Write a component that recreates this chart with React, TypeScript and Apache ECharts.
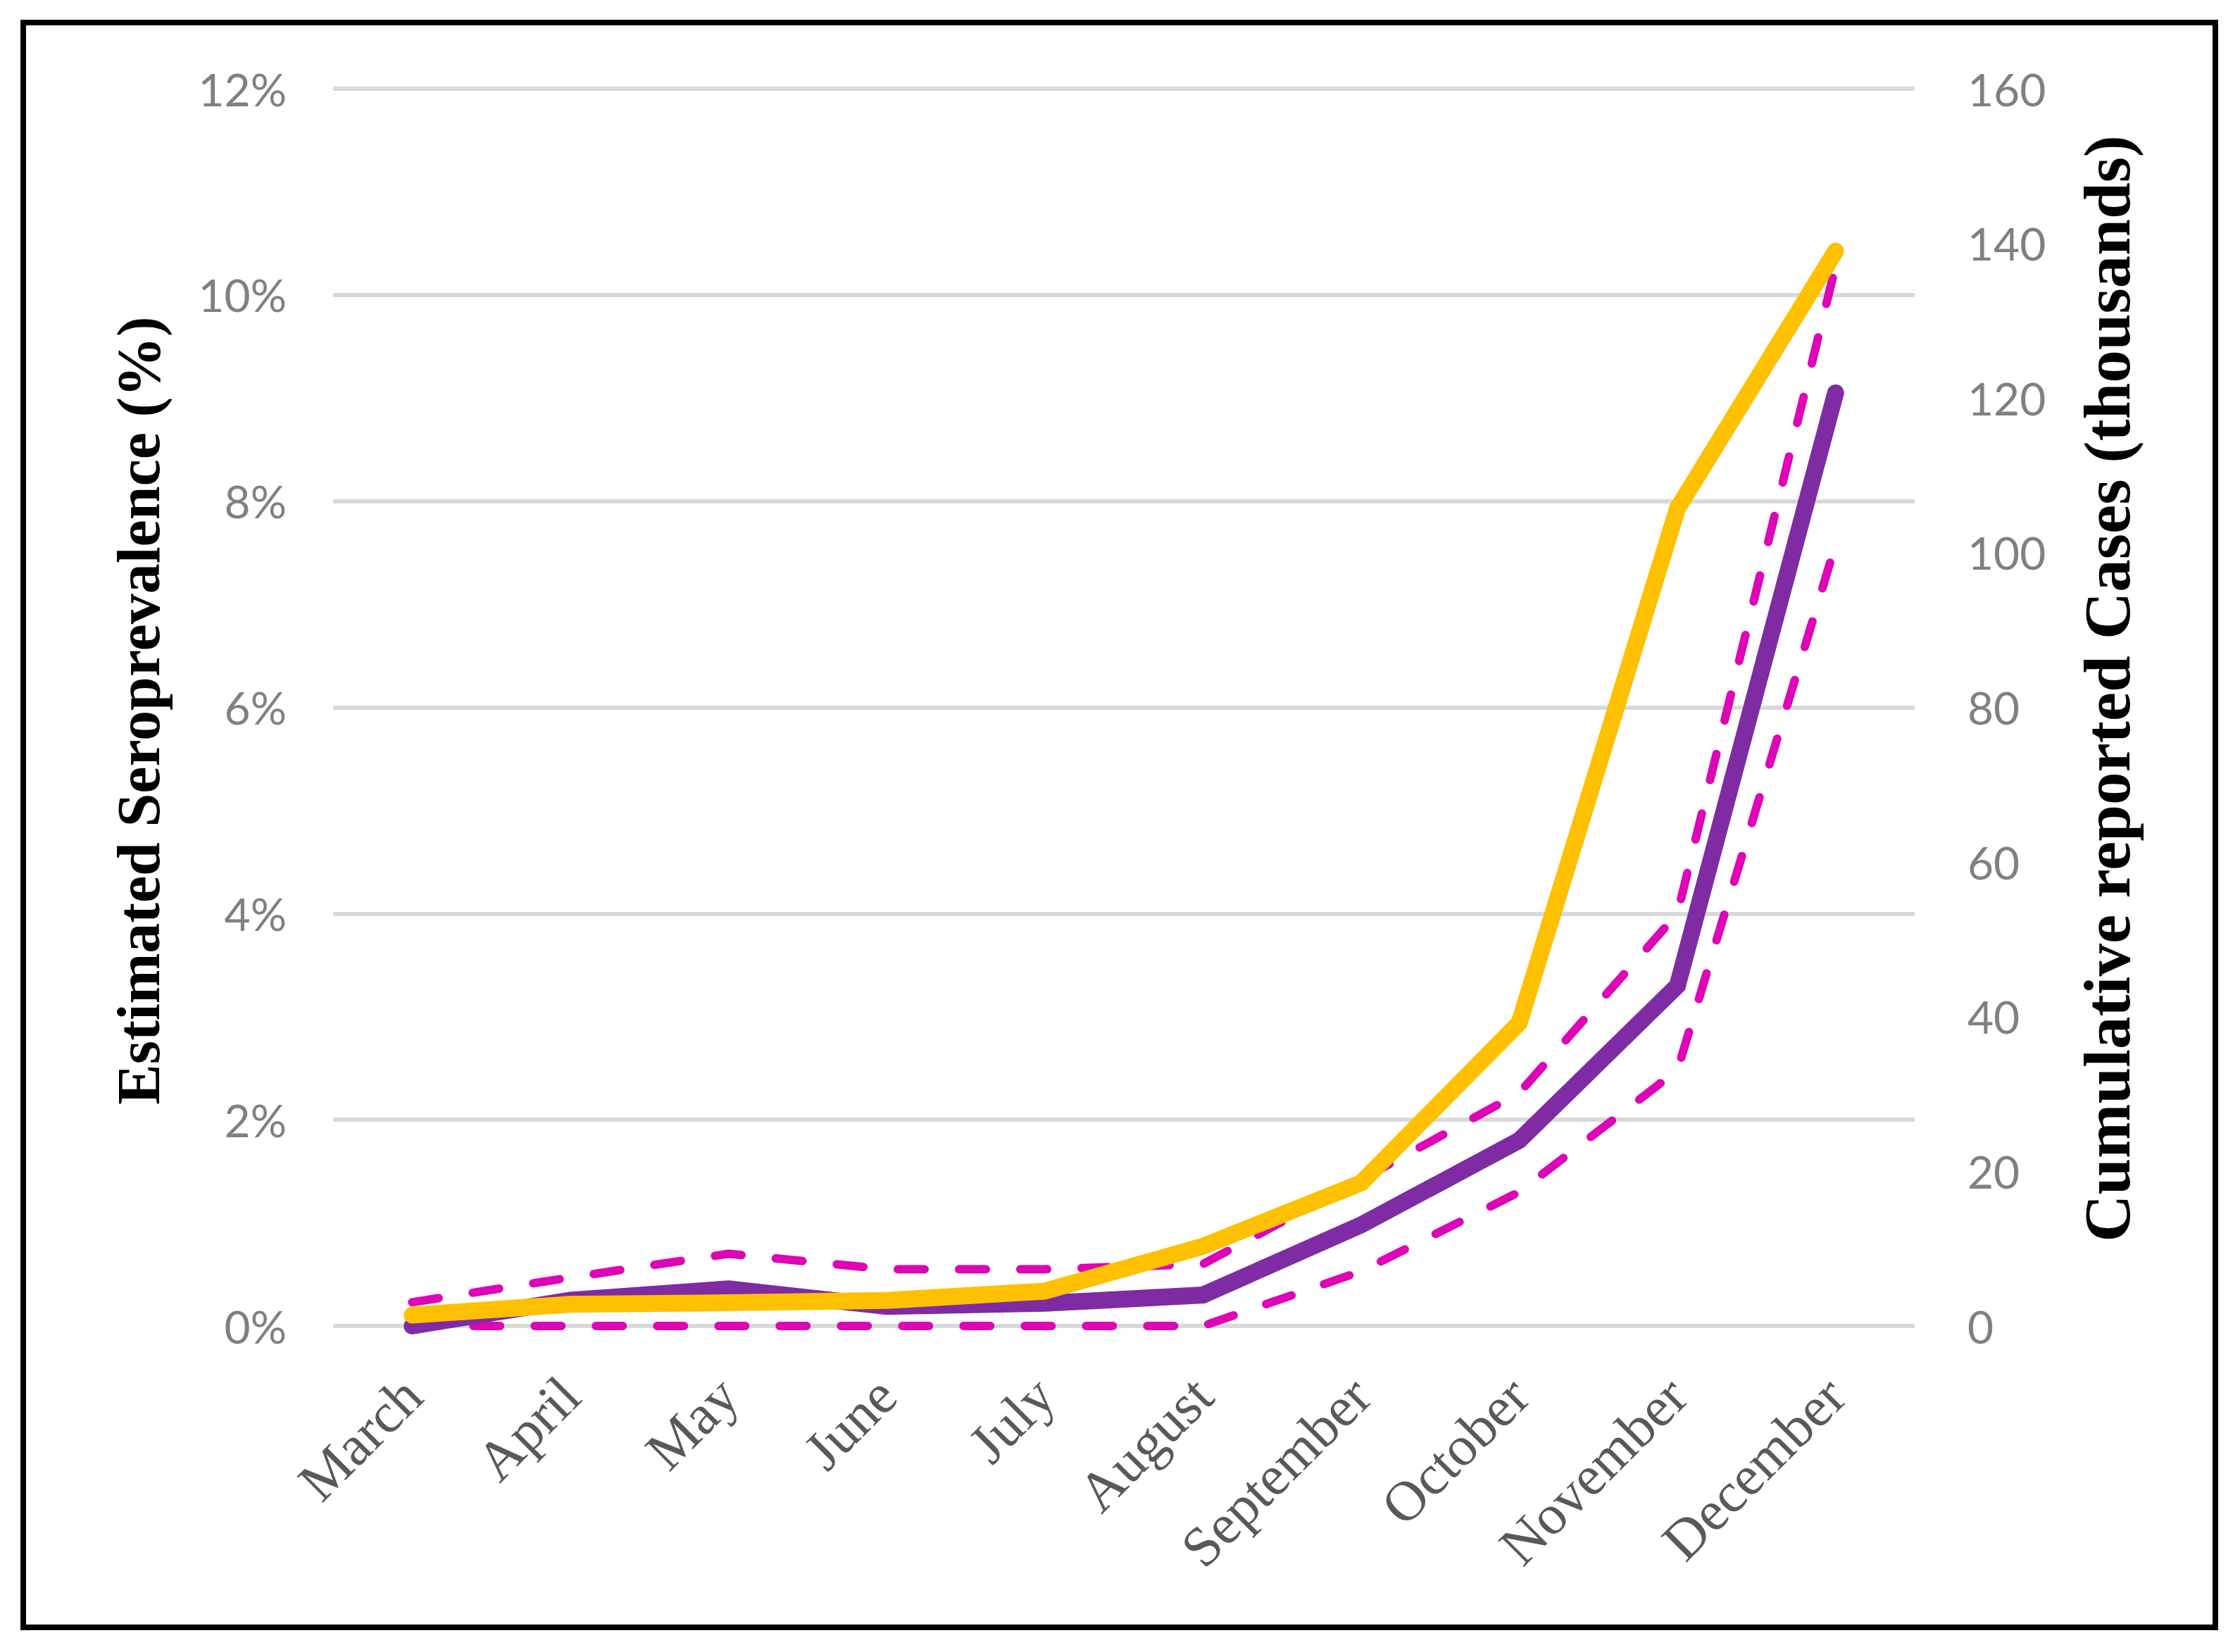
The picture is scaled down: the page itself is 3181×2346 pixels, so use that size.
import React, { useEffect, useRef } from "react";
import * as echarts from "echarts";

const months = ["March", "April", "May", "June", "July", "August", "September", "October", "November", "December"];
const casesThousands = [1.4, 2.8, 3.0, 3.3, 4.5, 10.3, 18.5, 39.2, 105.7, 139.0];
const seroEstimate = [0.0, 0.25, 0.36, 0.19, 0.22, 0.3, 0.98, 1.8, 3.3, 9.05];
const seroUpper = [0.23, 0.47, 0.7, 0.55, 0.55, 0.6, 1.42, 2.26, 4.0, 10.28];
const seroLower = [0, 0, 0, 0, 0, 0, 0.53, 1.3, 2.48, 7.58];
const leftTicks = { min: 0, max: 12, interval: 2 };
const rightTicks = { min: 0, max: 160, interval: 20 };

const W = 3181;
const H = 2346;

export default function App() {
  const ref = useRef<HTMLDivElement>(null);
  useEffect(() => {
    if (!ref.current) return;
    const chart = echarts.init(ref.current, null, { renderer: "svg" });
    const dashStyle = {
      color: "#DD05B5",
      width: 12,
      type: [38, 49] as any,
      cap: "round" as const,
      join: "round" as const,
    };
    chart.setOption({
      animation: false,
      backgroundColor: "#FFFFFF",
      grid: { left: 473, right: W - 2719, top: 126, bottom: H - 1883, containLabel: false },
      xAxis: {
        type: "category",
        data: months,
        boundaryGap: true,
        axisLine: { show: false },
        axisTick: { show: false },
        axisLabel: {
          rotate: 45,
          margin: 86,
          interval: 0,
          color: "#595959",
          fontFamily: "Liberation Serif",
          fontSize: 80,
        },
      },
      yAxis: [
        {
          type: "value",
          ...leftTicks,
          axisLine: { show: false },
          axisTick: { show: false },
          splitLine: { show: true, lineStyle: { color: "#D9D9D9", width: 6 } },
          axisLabel: {
            formatter: "{value}%",
            margin: 66,
            color: "#808080",
            fontFamily: "Lato",
            fontSize: 64,
          },
        },
        {
          type: "value",
          position: "right",
          ...rightTicks,
          axisLine: { show: false },
          axisTick: { show: false },
          splitLine: { show: false },
          axisLabel: {
            margin: 75,
            color: "#808080",
            fontFamily: "Lato",
            fontSize: 64,
          },
        },
      ],
      series: [
        { type: "line", name: "Lower", data: seroLower, yAxisIndex: 0, showSymbol: false, lineStyle: dashStyle, z: 2 },
        { type: "line", name: "Upper", data: seroUpper, yAxisIndex: 0, showSymbol: false, lineStyle: dashStyle, z: 2 },
        {
          type: "line",
          name: "Seroprevalence",
          data: seroEstimate,
          yAxisIndex: 0,
          showSymbol: false,
          lineStyle: { color: "#7F2BA3", width: 24, cap: "round", join: "miter" },
          z: 3,
        },
        {
          type: "line",
          name: "Cases",
          data: casesThousands,
          yAxisIndex: 1,
          showSymbol: false,
          lineStyle: { color: "#FFC000", width: 24, cap: "round", join: "miter" },
          z: 4,
        },
      ],
      graphic: [
        {
          type: "rect",
          shape: { x: 33, y: 32, width: 3113, height: 2279 },
          style: { fill: "none", stroke: "#000000", lineWidth: 8 },
          z: 10,
        },
        {
          type: "text",
          x: 197,
          y: 1009,
          rotation: Math.PI / 2,
          style: {
            text: "Estimated Seroprevalence (%)",
            fontFamily: "Liberation Serif",
            fontWeight: "bold",
            fontSize: 86,
            fill: "#000000",
            align: "center",
            verticalAlign: "middle",
          },
        },
        {
          type: "text",
          x: 2992,
          y: 978,
          rotation: Math.PI / 2,
          style: {
            text: "Cumulative reported Cases (thousands)",
            fontFamily: "Liberation Serif",
            fontWeight: "bold",
            fontSize: 93,
            fill: "#000000",
            align: "center",
            verticalAlign: "middle",
          },
        },
      ],
    });
    return () => chart.dispose();
  }, []);
  return (
    <div
      ref={ref}
      style={{ position: "absolute", left: 0, top: 0, width: W, height: H, background: "#fff" }}
    />
  );
}
